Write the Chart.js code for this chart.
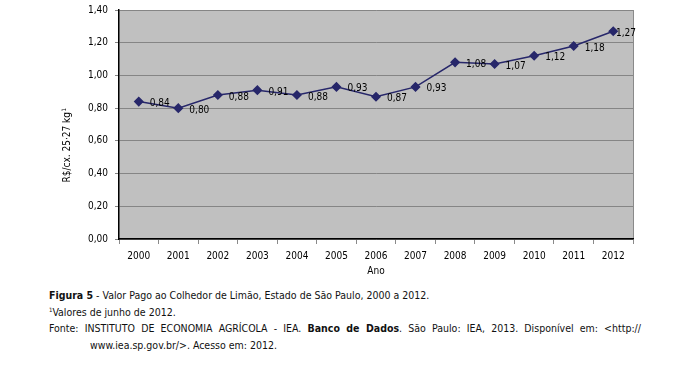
<!DOCTYPE html>
<html>
<head>
<meta charset="utf-8">
<script src="https://cdn.jsdelivr.net/npm/chart.js@4.4.0/dist/chart.umd.min.js"></script>
<style>
    body { margin: 0; background: #fff; width: 694px; height: 375px; overflow: hidden; position: relative;
           font-family: "DejaVu Sans Condensed", "DejaVu Sans", sans-serif; }
    #wrap { position: absolute; left: 0; top: 0; width: 694px; height: 285px; }
    #caption { position: absolute; left: 49px; top: 287px; width: 592px; font-size: 10.5px; line-height: 16.7px; color: #111; }
    #caption div { height: 16.7px; }
    #caption sup { font-size: 6px; line-height: 0; vertical-align: 0; position: relative; top: -4px; }
    #caption .just { text-align: justify; text-align-last: justify; }
    #caption .indent { padding-left: 41px; }
</style>
</head>
<body>
<div id="wrap"><canvas id="plot"></canvas></div>
<div id="caption">
    <div><b>Figura 5</b> - Valor Pago ao Colhedor de Limão, Estado de São Paulo, 2000 a 2012.</div>
    <div><sup>1</sup>Valores de junho de 2012.</div>
    <div class="just">Fonte: INSTITUTO DE ECONOMIA AGRÍCOLA - IEA. <b>Banco de Dados</b>. São Paulo: IEA, 2013. Disponível em: &lt;http://</div>
    <div class="indent">www.iea.sp.gov.br/&gt;. Acesso em: 2012.</div>
</div>
<script>
'use strict';

// data
const YEARS = ['2000', '2001', '2002', '2003', '2004', '2005', '2006',
               '2007', '2008', '2009', '2010', '2011', '2012'];
const VALUES = [0.84, 0.80, 0.88, 0.91, 0.88, 0.93, 0.87, 0.93, 1.08, 1.07, 1.12, 1.18, 1.27];
const Y_MIN = 0;
const Y_MAX = 1.4;
const Y_STEP = 0.2;

const Y_TITLE = 'R$/cx. 25·27 kg';
const X_TITLE = 'Ano';

const NAVY = '#27276a';
const FONT = { family: '"DejaVu Sans Condensed", "DejaVu Sans", sans-serif', size: 10 };

function fmt(v) {
    return v.toFixed(2).replace('.', ',');
}

// gray plot background + right border
const plotBg = {
    id: 'plotBg',
    beforeDraw(chart) {
        const { ctx, chartArea: a } = chart;
        ctx.save();
        ctx.fillStyle = '#c0c0c0';
        ctx.fillRect(a.left, a.top, a.right - a.left, a.bottom - a.top);
        ctx.strokeStyle = '#8a8a8a';
        ctx.lineWidth = 1;
        ctx.beginPath();
        ctx.moveTo(a.right + 0.5, a.top);
        ctx.lineTo(a.right + 0.5, a.bottom);
        ctx.stroke();
        ctx.restore();
    }
};

// value labels to the right of each point
const valueLabels = {
    id: 'valueLabels',
    afterDatasetsDraw(chart) {
        const { ctx, chartArea: a } = chart;
        const meta = chart.getDatasetMeta(0);
        ctx.save();
        ctx.font = FONT.size + 'px ' + FONT.family;
        ctx.fillStyle = '#000';
        ctx.textBaseline = 'middle';
        ctx.textAlign = 'left';
        meta.data.forEach((pt, i) => {
            const txt = fmt(VALUES[i]);
            const w = ctx.measureText(txt).width;
            const x = Math.min(pt.x + 11, a.right + 3 - w);
            ctx.fillText(txt, x, pt.y + 2);
        });
        ctx.restore();
    }
};

// rotated y title with superscript, like the original
const yTitle = {
    id: 'yTitle',
    afterDraw(chart) {
        const { ctx, chartArea: a } = chart;
        ctx.save();
        ctx.translate(a.left - 52, (a.top + a.bottom) / 2 + 21);
        ctx.rotate(-Math.PI / 2);
        ctx.fillStyle = '#000';
        ctx.textBaseline = 'middle';
        ctx.textAlign = 'left';
        ctx.font = FONT.size + 'px ' + FONT.family;
        const w1 = ctx.measureText(Y_TITLE).width;
        ctx.font = '6px ' + FONT.family;
        const w2 = ctx.measureText('1').width;
        const x0 = -(w1 + w2) / 2;
        ctx.font = FONT.size + 'px ' + FONT.family;
        ctx.fillText(Y_TITLE, x0, 0);
        ctx.font = '6px ' + FONT.family;
        ctx.fillText('1', x0 + w1 + 0.5, -3);
        ctx.restore();
    }
};

const config = {
    type: 'line',
    data: {
        labels: YEARS,
        datasets: [{
            data: VALUES,
            borderColor: NAVY,
            backgroundColor: NAVY,
            borderWidth: 1.5,
            pointStyle: 'rectRot',
            pointRadius: 4,
            pointBackgroundColor: NAVY,
            pointBorderColor: NAVY,
            tension: 0
        }]
    },
    options: {
        responsive: true,
        maintainAspectRatio: false,
        animation: false,
        layout: { padding: { top: 10, right: 61, left: 0, bottom: 0 } },
        plugins: {
            legend: { display: false },
            tooltip: { enabled: false }
        },
        scales: {
            x: {
                type: 'category',
                offset: true,
                grid: { offset: true, drawOnChartArea: false, drawTicks: true, tickLength: 5, color: '#8a8a8a' },
                border: { color: '#000', width: 1.5 },
                ticks: { color: '#000', font: FONT, padding: 6, maxRotation: 0 },
                title: { display: true, text: X_TITLE, color: '#000', font: FONT, padding: { top: 0, bottom: 8 } },
                afterFit(scale) { scale.height = 46; scale.paddingLeft = 0; scale.paddingRight = 0; }
            },
            y: {
                min: Y_MIN,
                max: Y_MAX,
                grid: { color: '#858585', tickLength: 4, drawTicks: true },
                border: { color: '#000', width: 1.5 },
                ticks: {
                    stepSize: Y_STEP,
                    color: '#000',
                    font: FONT,
                    padding: 7,
                    callback: (v) => fmt(v)
                },
                afterFit(scale) { scale.width = 119; scale.paddingTop = 0; scale.paddingBottom = 0; }
            }
        }
    },
    plugins: [plotBg, valueLabels, yTitle]
};

new Chart(document.getElementById('plot'), config);
</script>
</body>
</html>
